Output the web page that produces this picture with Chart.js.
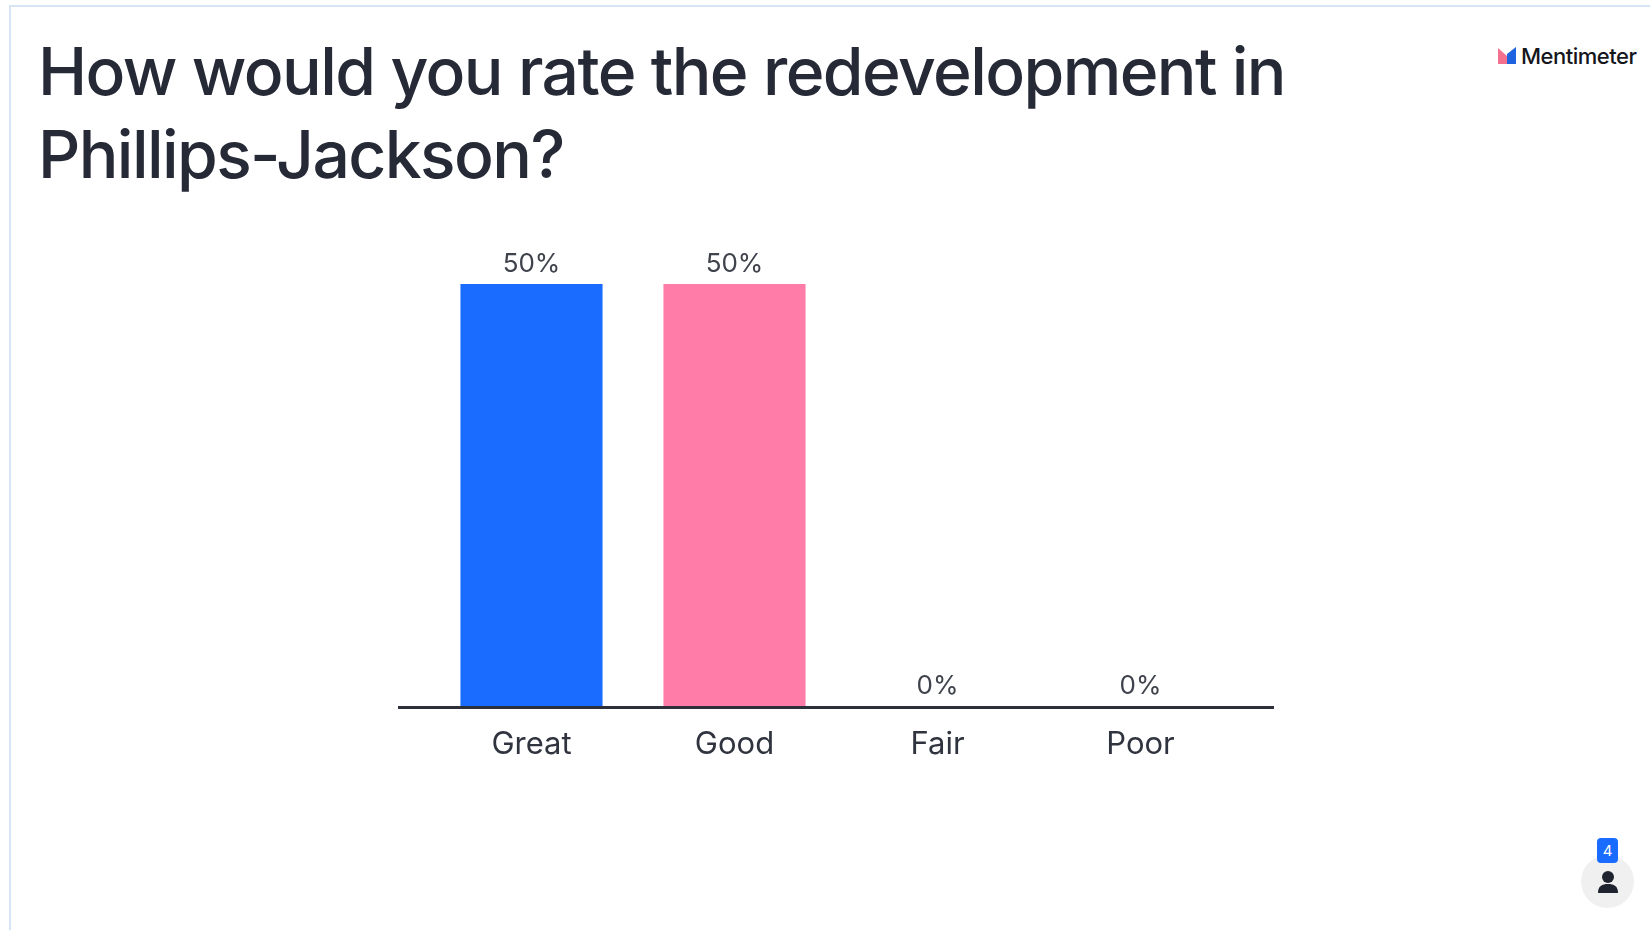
<!DOCTYPE html>
<html>
<head>
<meta charset="utf-8">
<title>Mentimeter results</title>
<script src="https://cdn.jsdelivr.net/npm/chart.js@4/dist/chart.umd.min.js"></script>
<style>
  html, body { margin: 0; padding: 0; background: #fff; overflow: hidden; }
  body { width: 1650px; height: 930px; position: relative; font-family: Inter, sans-serif; }
  #frame { position: absolute; left: 9px; top: 5px; right: 0; bottom: -5px; border-left: 2px solid #d6e4f3; border-top: 2px solid #d6e4f3; }
  #question { position: absolute; left: 38px; top: 30px; margin: 0; font-size: 66px; line-height: 83px; font-weight: 500; color: #252a36; letter-spacing: -1.6px; white-space: nowrap; }
  #brand { position: absolute; left: 1521px; top: 42px; font-size: 22px; line-height: 28px; font-weight: 500; color: #14161c; letter-spacing: -0.5px; }
  #brand-icon { position: absolute; left: 1498px; top: 47px; }
  #voter { position: absolute; left: 1581px; top: 855px; width: 53px; height: 53px; border-radius: 50%; background: #f0f0f0; }
  #voter-icon { position: absolute; left: 1597px; top: 870px; }
  #count { position: absolute; left: 1597px; top: 838px; width: 21px; height: 25px; border-radius: 4px; background: #196cff; color: #fff; font-size: 15px; line-height: 25px; text-align: center; }
  #chart { position: absolute; left: 0; top: 0; }
</style>
</head>
<body>
<div id="frame"></div>
<h1 id="question">How would you rate the redevelopment in<br>Phillips-Jackson?</h1>
<svg id="brand-icon" width="18" height="17" viewBox="0 0 18 17">
  <path d="M0 1 L9 9 L9 17 L0 17 Z" fill="#f4708f"/>
  <path d="M18 0 L18 17 L9 17 L9 7 Z" fill="#1f63e0"/>
</svg>
<div id="brand">Mentimeter</div>
<canvas id="chart" width="1650" height="930"></canvas>
<div id="voter"></div>
<svg id="voter-icon" width="22" height="24" viewBox="0 0 22 24">
  <circle cx="11" cy="7" r="6" fill="#1f2430"/>
  <path d="M1 23 C1 16 5 14 11 14 C17 14 21 16 21 23 Z" fill="#1f2430"/>
</svg>
<div id="count">4</div>
<script>
const categories = ["Great", "Good", "Fair", "Poor"];
const percentages = [50, 50, 0, 0];
const barColors = ["#196cff", "#ff7ca8", "#c9d8f5", "#2a3040"];

const labelColor = "#3f434c";
const axisColor = "#2d3039";
const axisOverhang = 32;

// baseline runs a bit past the outer categories, and every bar gets its % on top
const barDecorations = {
  id: "barDecorations",
  afterDatasetsDraw(chart) {
    const { ctx, chartArea, scales } = chart;
    const baseY = scales.y.getPixelForValue(0);
    ctx.save();
    ctx.strokeStyle = axisColor;
    ctx.lineWidth = 3;
    ctx.beginPath();
    ctx.moveTo(chartArea.left - axisOverhang, baseY + 1.5);
    ctx.lineTo(chartArea.right + axisOverhang, baseY + 1.5);
    ctx.stroke();

    ctx.fillStyle = labelColor;
    ctx.font = "400 26px Inter";
    ctx.textAlign = "center";
    ctx.textBaseline = "middle";
    chart.getDatasetMeta(0).data.forEach((bar, i) => {
      ctx.fillText(percentages[i] + "%", bar.x, bar.y - 20);
    });
    ctx.restore();
  },
};

new Chart(document.getElementById("chart"), {
  type: "bar",
  data: {
    labels: categories,
    datasets: [
      {
        data: percentages,
        backgroundColor: barColors,
        borderWidth: 0,
        categoryPercentage: 1,
        barPercentage: 0.7,
      },
    ],
  },
  options: {
    responsive: false,
    animation: false,
    layout: {
      padding: { left: 430, right: 408, top: 284, bottom: 174 },
    },
    scales: {
      x: {
        grid: { display: false },
        border: { display: false },
        afterFit: (scale) => {
          scale.height = 50;
        },
        ticks: {
          color: "#30343f",
          padding: 12,
          maxRotation: 0,
          font: { family: "Inter", size: 31, weight: "400" },
        },
      },
      y: {
        display: false,
        min: 0,
        max: 50,
      },
    },
    plugins: {
      legend: { display: false },
      tooltip: { enabled: false },
    },
  },
  plugins: [barDecorations],
});
</script>
</body>
</html>
